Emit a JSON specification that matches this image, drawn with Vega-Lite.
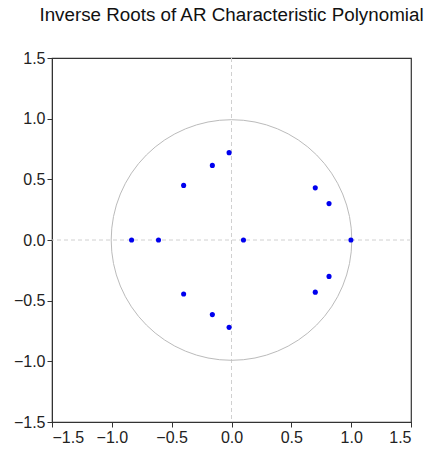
{
  "$schema": "https://vega.github.io/schema/vega-lite/v6.json",
  "width": 359,
  "height": 364,
  "autosize": "none",
  "padding": {"left": 52, "top": 58, "right": 23, "bottom": 32},
  "background": "white",
  "title": {
    "text": "Inverse Roots of AR Characteristic Polynomial",
    "font": "Liberation Sans",
    "fontSize": 18.8,
    "fontWeight": "normal",
    "color": "#111",
    "anchor": "middle",
    "offset": 25
  },
  "config": {
    "view": {"stroke": "#333", "strokeWidth": 1.2},
    "axis": {
      "grid": false,
      "labelFont": "Liberation Sans",
      "labelFontSize": 16,
      "labelColor": "#222",
      "tickColor": "#333",
      "domainColor": "#333",
      "tickSize": 5,
      "labelPadding": 2,
      "title": null
    }
  },
  "datasets": {
    "roots": [
      {"re": -0.02, "im": 0.72},
      {"re": -0.16, "im": 0.615},
      {"re": -0.40, "im": 0.45},
      {"re": -0.835, "im": 0.0},
      {"re": -0.61, "im": 0.0},
      {"re": 0.10, "im": 0.0},
      {"re": -0.40, "im": -0.445},
      {"re": -0.16, "im": -0.615},
      {"re": -0.02, "im": -0.72},
      {"re": 0.70, "im": 0.43},
      {"re": 0.815, "im": 0.30},
      {"re": 0.998, "im": 0.0},
      {"re": 0.815, "im": -0.30},
      {"re": 0.70, "im": -0.43}
    ],
    "origin": [{"re": 0, "im": 0}]
  },
  "layer": [
    {
      "data": {"name": "origin"},
      "mark": {"type": "rule", "stroke": "#d0d0d0", "strokeDash": [4, 3], "strokeWidth": 1},
      "encoding": {
        "x": {"field": "re", "type": "quantitative", "scale": {"domain": [-1.5, 1.5], "nice": false, "zero": false}, "axis": {"values": [-1.5, -1.0, -0.5, 0.0, 0.5, 1.0, 1.5], "format": ".1f"}}
      }
    },
    {
      "data": {"name": "origin"},
      "mark": {"type": "rule", "stroke": "#d0d0d0", "strokeDash": [4, 3], "strokeWidth": 1},
      "encoding": {
        "y": {"field": "im", "type": "quantitative", "scale": {"domain": [-1.5, 1.5], "nice": false, "zero": false}, "axis": {"values": [-1.5, -1.0, -0.5, 0.0, 0.5, 1.0, 1.5], "format": ".1f"}}
      }
    },
    {
      "data": {"name": "origin"},
      "mark": {"type": "point", "shape": "circle", "filled": false, "size": 57900, "stroke": "#bbbbbb", "strokeWidth": 1, "opacity": 1},
      "encoding": {
        "x": {"field": "re", "type": "quantitative"},
        "y": {"field": "im", "type": "quantitative"}
      }
    },
    {
      "data": {"name": "roots"},
      "mark": {"type": "point", "shape": "circle", "filled": true, "size": 26, "color": "#0000ee", "opacity": 1},
      "encoding": {
        "x": {"field": "re", "type": "quantitative"},
        "y": {"field": "im", "type": "quantitative"}
      }
    }
  ]
}
